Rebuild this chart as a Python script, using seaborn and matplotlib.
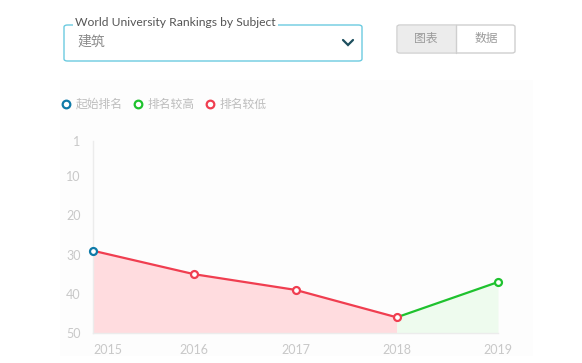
import matplotlib
matplotlib.use("Agg")
import matplotlib.pyplot as plt
import seaborn as sns
import pandas as pd
from matplotlib.patches import FancyBboxPatch, Rectangle
from matplotlib.lines import Line2D

years = [2015, 2016, 2017, 2018, 2019]
ranks = [29, 35, 39, 46, 37]
y_ticks = [1, 10, 20, 30, 40, 50]
legend_labels = ["起始排名", "排名较高", "排名较低"]
dropdown_title = "World University Rankings by Subject"
dropdown_value = "建筑"
buttons = ["图表", "数据"]

RED = "#f03e50"
GREEN = "#1ec22e"
BLUE = "#0e7aa8"
RED_FILL = "#ffdcdf"
GREEN_FILL = "#eefbee"
TXT = "#c8c8c8"

sns.set_theme(style="white")
plt.rcParams['font.family'] = ['Lato', 'Noto Sans CJK SC', 'DejaVu Sans']

W, H = 582, 363
fig = plt.figure(figsize=(W / 100, H / 100), dpi=100)
fig.patch.set_facecolor("white")

def fx(px):
    return px / W

def fy(py):
    return 1 - py / H

# faint panel
fig.patches.append(Rectangle((fx(60), fy(356)), fx(533) - fx(60), fy(80) - fy(356),
                             transform=fig.transFigure, facecolor="#fdfdfd",
                             edgecolor="none", zorder=-5))

ax = fig.add_axes([fx(93), fy(333), fx(498) - fx(93), fy(141) - fy(333)])
ax.set_facecolor("none")
ax.set_zorder(2)

df = pd.DataFrame({"year": years, "rank": ranks})
red_df = df.iloc[:4]
green_df = df.iloc[3:]

ax.fill_between(red_df["year"], red_df["rank"], 50, color=RED_FILL, lw=0, zorder=1)
ax.fill_between(green_df["year"], green_df["rank"], 50, color=GREEN_FILL, lw=0, zorder=1)
sns.lineplot(data=red_df, x="year", y="rank", color=RED, lw=1.6, ax=ax, zorder=3)
sns.lineplot(data=green_df, x="year", y="rank", color=GREEN, lw=1.6, ax=ax, zorder=3)

mcolors = [BLUE, RED, RED, RED, GREEN]
for x, y, c in zip(years, ranks, mcolors):
    ax.plot([x], [y], marker="o", ms=5, mfc="white", mec=c, mew=1.6,
            clip_on=False, zorder=5)

ax.set_xlim(2015, 2019)
ax.set_ylim(50, 1)
ax.set_yticks(y_ticks)
ax.set_yticklabels([str(t) for t in y_ticks])
ax.set_xticks(years)
ax.set_xticklabels([str(y) for y in years])
ax.tick_params(axis="both", length=0, colors=TXT, labelsize=9)
ax.tick_params(axis="y", pad=9)
ax.tick_params(axis="x", pad=8)
ax.get_xticklabels()[0].set_horizontalalignment("left")
ax.set_xlabel("")
ax.set_ylabel("")
for s in ["top", "right"]:
    ax.spines[s].set_visible(False)
ax.spines["left"].set_color("#ececec")
ax.spines["left"].set_linewidth(1)
ax.spines["bottom"].set_color("#ececec")
ax.spines["bottom"].set_linewidth(1)

# legend
lx = [66, 138, 210]
lcols = [BLUE, GREEN, RED]
for x, c, lab in zip(lx, lcols, legend_labels):
    fig.add_artist(Line2D([fx(x)], [fy(104)], marker="o", ms=5.5, mfc="white",
                          mec=c, mew=1.6, transform=fig.transFigure, ls=""))
    fig.text(fx(x + 10), fy(104), lab, color="#bdbdbd", fontsize=8.5,
             va="center", ha="left", family=['Noto Sans CJK SC', 'DejaVu Sans'])

# dropdown
fig.patches.append(FancyBboxPatch((fx(64), fy(61)), fx(362) - fx(64), fy(25) - fy(61),
                                  boxstyle="round,pad=0,rounding_size=0.006",
                                  transform=fig.transFigure, facecolor="white",
                                  edgecolor="#6ccbe0", lw=1.0))
fig.text(fx(75), fy(23), dropdown_title, fontsize=8.7, color="#555555",
         va="center", ha="left", family=['Lato', 'DejaVu Sans'],
         bbox=dict(facecolor="white", edgecolor="none", pad=1.5))
fig.text(fx(77), fy(42), dropdown_value, fontsize=10, color="#8a8a8a",
         va="center", ha="left", family=['Noto Sans CJK SC', 'DejaVu Sans'])
fig.add_artist(Line2D([fx(343), fx(348), fx(353)], [fy(40), fy(45), fy(40)],
                      transform=fig.transFigure, color="#1d4f5e", lw=1.6,
                      solid_capstyle="round", solid_joinstyle="miter"))

# buttons
fig.patches.append(FancyBboxPatch((fx(397), fy(53)), fx(515) - fx(397), fy(25) - fy(53),
                                  boxstyle="round,pad=0,rounding_size=0.005",
                                  transform=fig.transFigure, facecolor="white",
                                  edgecolor="#cfcfcf", lw=1.0))
fig.patches.append(Rectangle((fx(397.6), fy(52.4)), fx(456) - fx(397.6), fy(25.6) - fy(52.4),
                             transform=fig.transFigure, facecolor="#ececec",
                             edgecolor="none"))
fig.add_artist(Line2D([fx(456), fx(456)], [fy(25), fy(53)], transform=fig.transFigure,
                      color="#cfcfcf", lw=1.0))
fig.text(fx(426), fy(38.5), buttons[0], fontsize=8.5, color="#9a9a9a", ha="center",
         va="center", family=['Noto Sans CJK SC', 'DejaVu Sans'])
fig.text(fx(486), fy(38.5), buttons[1], fontsize=8.5, color="#9a9a9a", ha="center",
         va="center", family=['Noto Sans CJK SC', 'DejaVu Sans'])

fig.savefig("out.png", dpi=100, facecolor="white")
